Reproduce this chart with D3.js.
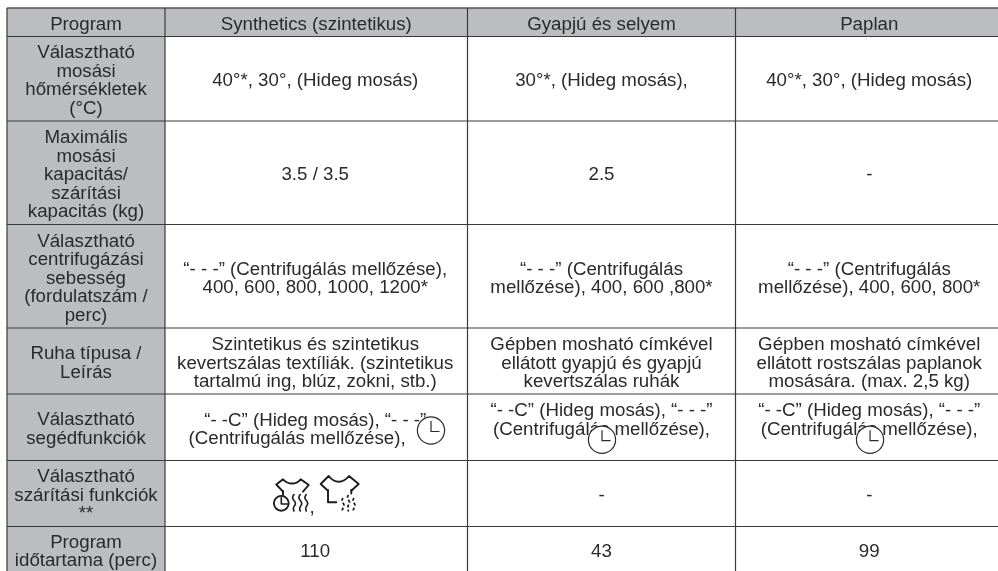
<!DOCTYPE html>
<html><head><meta charset="utf-8">
<script src="https://cdn.jsdelivr.net/npm/d3@7"></script>
<style>html,body{margin:0;padding:0;background:#fff;overflow:hidden}svg{display:block;filter:blur(.3px)}</style>
</head><body><svg id="c" width="998" height="571"></svg>
<script>
const programs = ["Program","Synthetics (szintetikus)","Gyapjú és selyem","Paplan"];
const rowLabels = [
 ["Választható","mosási","hőmérsékletek","(°C)"],
 ["Maximális","mosási","kapacitás/","szárítási","kapacitás (kg)"],
 ["Választható","centrifugázási","sebesség","(fordulatszám /","perc)"],
 ["Ruha típusa /","Leírás"],
 ["Választható","segédfunkciók"],
 ["Választható","szárítási funkciók","**"],
 ["Program","időtartama (perc)"]
];
const synthetics = [
 ["40°*, 30°, (Hideg mosás)"],["3.5 / 3.5"],
 ["“- - -” (Centrifugálás mellőzése),","400, 600, 800, 1000, 1200*"],
 ["Szintetikus és szintetikus","kevertszálas textíliák. (szintetikus","tartalmú ing, blúz, zokni, stb.)"],
 ["“- -C” (Hideg mosás), “- - -”","(Centrifugálás mellőzése),       "],
 [""],["110"]
];
const wool = [
 ["30°*, (Hideg mosás),"],["2.5"],
 ["“- - -” (Centrifugálás","mellőzése), 400, 600 ,800*"],
 ["Gépben mosható címkével","ellátott gyapjú és gyapjú","kevertszálas ruhák"],
 ["“- -C” (Hideg mosás), “- - -”","(Centrifugálás mellőzése),",""],
 ["-"],["43"]
];
const duvet = [
 ["40°*, 30°, (Hideg mosás)"],["-"],
 ["“- - -” (Centrifugálás","mellőzése), 400, 600, 800*"],
 ["Gépben mosható címkével","ellátott rostszálas paplanok","mosására. (max. 2,5 kg)"],
 ["“- -C” (Hideg mosás), “- - -”","(Centrifugálás mellőzése),",""],
 ["-"],["99"]
];

const colEdges = [7,165,467.5,735.5,1003];
const rowEdges = [36.5,121,224.5,328,394,460.5,526.5,574];
const headTop = 8, lh = 18.5, ink = "#2a2a2a", rule = "#3a3a3a", grey = "#bcbdc0";

const svg = d3.select("#c");
const x0 = d3.scaleOrdinal().domain(programs).range(colEdges.slice(0,4));
const x1 = d3.scaleOrdinal().domain(programs).range(colEdges.slice(1));
const rowIdx = d3.range(rowLabels.length);
const y0 = d3.scaleOrdinal().domain(rowIdx).range(rowEdges.slice(0,-1));
const y1 = d3.scaleOrdinal().domain(rowIdx).range(rowEdges.slice(1));
const cx = p => (x0(p)+x1(p))/2;

svg.append("rect").attr("x",x0(programs[0])).attr("y",headTop).attr("width",998-x0(programs[0])).attr("height",rowEdges[0]-headTop).attr("fill",grey);
svg.append("g").selectAll("rect").data(rowIdx).join("rect")
  .attr("x",x0(programs[0])).attr("y",i=>y0(i)).attr("width",x1(programs[0])-x0(programs[0]))
  .attr("height",i=>y1(i)-y0(i)).attr("fill",grey);

function addLines(g, lines, x, yc){
  const t = g.append("text").attr("text-anchor","middle").attr("xml:space","preserve");
  lines.forEach((s,k)=>t.append("tspan").attr("x",x).attr("y",yc+(k-(lines.length-1)/2)*lh+6.5).text(s));
}
const txt = svg.append("g").attr("font-family","'Liberation Sans',Arial,sans-serif").attr("font-size",18.7).attr("fill",ink);
programs.forEach((p,c)=>addLines(txt,[p],cx(p)+[0,0,0,0][c],23));
rowIdx.forEach(i=>{
  addLines(txt,rowLabels[i],cx(programs[0]),(y0(i)+y1(i))/2+(i===6?0:0.8));
  [synthetics,wool,duvet].forEach((col,c)=>{
    const p = programs[c+1];
    const xc = cx(p)+[-1,0,0][c];
    addLines(txt,col[i],xc,(y0(i)+y1(i))/2+(i===6?0.5:1));
  });
});

const clock = (x,y)=>{
  const g = svg.append("g").attr("transform",`translate(${x},${y})`).attr("fill","none").attr("stroke",ink).attr("stroke-width",1.2);
  g.append("circle").attr("r",13.6).attr("fill","#fff");
  g.append("path").attr("d","M0,-9.5V1H8.5");
};
clock(431,430.5); clock(cx(programs[2])+0.5,439.7); clock(cx(programs[3])+0.8,439.7);

txt.append("text").attr("x",312).attr("y",513).attr("text-anchor","middle").text(",");
const ic = svg.append("g").attr("fill","none").attr("stroke","#1c1c1c").attr("stroke-width",1.9).attr("stroke-linejoin","round").attr("stroke-linecap","round");
ic.append("path").attr("d","M283,491.7 L276.3,484.5 L283,479.3 Q287,483.5 292,483.5 Q297,483.5 300.7,479.3 L308.7,485 L303,491.7");
ic.append("path").attr("d","M283,491V495");
ic.append("circle").attr("cx",281.3).attr("cy",503.3).attr("r",7.4);
ic.append("path").attr("d","M281.3,497.5V504H287.3").attr("stroke-width",1.6);
[294,300.3,306.3].forEach(x=>ic.append("path").attr("d",`M${x},494.5 q-2.8,3 0,6 q2.8,3 0,6 q-1.2,2.5 0,4.5`).attr("stroke-width",1.6));
ic.append("path").attr("d","M328,490.7 L320.7,484 L328.7,476 Q333,481.7 338.7,481.7 Q344.5,481.7 349,476 L358.7,484 L351.3,490.7");
ic.append("path").attr("d","M328,490V502.3H336.3");
ic.append("path").attr("d","M351.3,490V493.5");
[343,348.5,354].forEach((x,k)=>ic.append("path").attr("d",`M${x},${k==1?495:498} q-2,2.5 0,5 q2,2.5 0,5 q-1.2,2 0,${k==1?6.5:3.5}`).attr("stroke-dasharray","3 2.2").attr("stroke-linecap","butt").attr("stroke-width",1.8));

const rules = svg.append("g").attr("stroke",rule);
rules.selectAll("line.h").data([headTop,...rowEdges.slice(0,-1)]).join("line").attr("class","h")
  .attr("x1",colEdges[0]).attr("x2",998).attr("y1",d=>d).attr("y2",d=>d)
  .attr("stroke-width",(d,i)=>i===0?1.5:1.2).attr("stroke",(d,i)=>i===0?"#555":rule);
rules.selectAll("line.v").data(colEdges.slice(0,4)).join("line").attr("class","v")
  .attr("x1",d=>d).attr("x2",d=>d).attr("y1",headTop).attr("y2",571).attr("stroke-width",1.2);
</script></body></html>
